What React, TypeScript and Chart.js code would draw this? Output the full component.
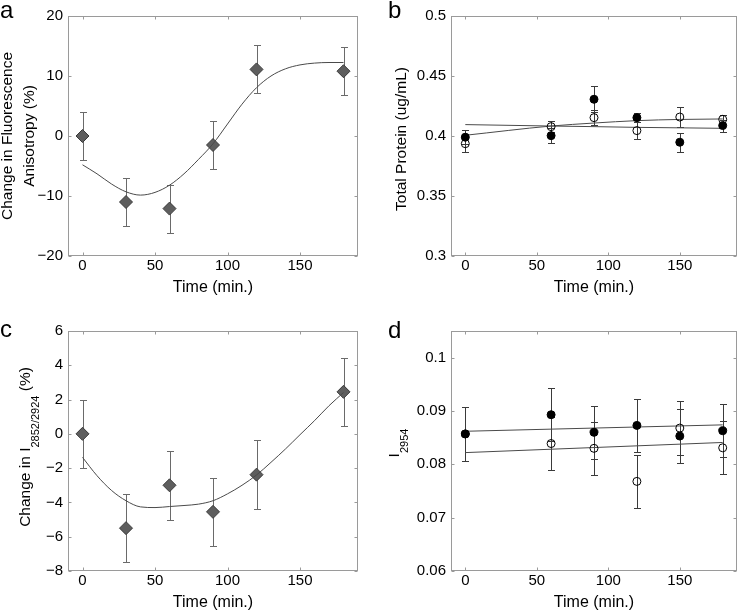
import React, { useEffect, useRef } from 'react';
import { Chart, registerables } from 'chart.js';

Chart.register(...registerables);

const FONT = '"Liberation Sans", Arial, Helvetica, sans-serif';

// ---------- shared x axis ----------
const xTicks = [0, 50, 100, 150];
const xLabels = ['0', '50', '100', '150'];

// ---------- panel a ----------
const timeA = [0, 30, 60, 90, 120, 180];
const anisoMean = [0, -11, -12.1, -1.5, 11.1, 10.8];
const anisoErr = [4, 4, 4, 4, 4, 4];
const fitTimeA = [0, 10, 20, 30, 40, 50, 60, 70, 80, 90, 100, 110, 120, 130, 140, 150, 160, 170, 180];
const anisoFit = [-4.8, -6.3, -8.0, -9.3, -9.85, -9.4, -8.2, -6.3, -3.9, -1.3, 2.0, 5.3, 8.05, 10.0, 11.2, 11.85, 12.15, 12.25, 12.25];
const yTicksA = [-20, -10, 0, 10, 20];
const yLabelsA = ['\u221220', '\u221210', '0', '10', '20'];

// ---------- panel b ----------
const timeB = [0, 60, 90, 120, 150, 180];
const proteinFilled = [0.399, 0.4003, 0.4306, 0.4153, 0.3948, 0.4087];
const proteinFilledErr = [0.006, 0.006, 0.011, 0.004, 0.008, 0.005];
const proteinOpen = [0.3936, 0.4078, 0.4153, 0.4045, 0.4158, 0.4139];
const proteinOpenErr = [0.007, 0.0045, 0.006, 0.007, 0.008, 0.004];
const fitTimeB = [0, 60, 90, 120, 150, 180];
const proteinFitRising = [0.4006, 0.4083, 0.4108, 0.4128, 0.4138, 0.4142];
const proteinFitFlat = [0.4095, 0.4083, 0.4078, 0.4072, 0.4068, 0.4064];
const yTicksB = [0.3, 0.35, 0.4, 0.45, 0.5];
const yLabelsB = ['0.3', '0.35', '0.4', '0.45', '0.5'];

// ---------- panel c ----------
const timeC = [0, 30, 60, 90, 120, 180];
const ratioMean = [0, -5.5, -3.0, -4.55, -2.38, 2.45];
const ratioErr = [2, 2, 2, 2, 2, 2];
const fitTimeC = [0, 10, 20, 30, 40, 50, 60, 70, 80, 90, 100, 110, 120, 130, 140, 150, 160, 170, 180];
const ratioFit = [-1.37, -2.44, -3.3, -3.9, -4.26, -4.3, -4.24, -4.18, -4.1, -3.9, -3.5, -3.0, -2.4, -1.66, -0.88, -0.05, 0.77, 1.64, 2.41];
const yTicksC = [-8, -6, -4, -2, 0, 2, 4, 6];
const yLabelsC = ['\u22128', '\u22126', '\u22124', '\u22122', '0', '2', '4', '6'];

// ---------- panel d ----------
const timeD = [0, 60, 90, 120, 150, 180];
const intFilled = [0.0857, 0.0893, 0.086, 0.0873, 0.0853, 0.0863];
const intFilledErr = [0.005, 0.005, 0.005, 0.005, 0.005, 0.005];
const intOpen = [0.0857, 0.0839, 0.083, 0.0768, 0.0868, 0.0831];
const intOpenErr = [0.005, 0.005, 0.005, 0.005, 0.005, 0.005];
const fitTimeD = [0, 180];
const intFitFilled = [0.0862, 0.0874];
const intFitOpen = [0.0822, 0.0841];
const yTicksD = [0.06, 0.07, 0.08, 0.09, 0.1];
const yLabelsD = ['0.06', '0.07', '0.08', '0.09', '0.1'];

const W = 371;
const H = 305;
const FRAME = '#9a9a9a';

const pts = (xs: number[], ys: number[]) => xs.map((x, i) => ({ x, y: ys[i] }));

type Part = { text: string; sub?: boolean };
type Deco = {
  letter: string;
  letterX: number;
  letterY: number;
  yTitle: Part[][];
  yTitleX: number[];
  yTitleCY: number;
  yTicks: number[];
};

const decoPlugin = {
  id: 'deco',
  beforeDatasetsDraw(chart: any) {
    const ctx = chart.ctx;
    const xs = chart.scales.x;
    const ys = chart.scales.y;
    chart.data.datasets.forEach((ds: any) => {
      if (!ds.errors) return;
      ctx.save();
      ctx.strokeStyle = ds.errorColor || '#333';
      ctx.lineWidth = 1;
      ds.data.forEach((p: any, j: number) => {
        const e = ds.errors[j];
        const x = Math.round(xs.getPixelForValue(p.x)) + 0.5;
        const y1 = Math.round(ys.getPixelForValue(p.y + e)) + 0.5;
        const y2 = Math.round(ys.getPixelForValue(p.y - e)) + 0.5;
        ctx.beginPath();
        ctx.moveTo(x, y1);
        ctx.lineTo(x, y2);
        ctx.moveTo(x - 3.5, y1);
        ctx.lineTo(x + 3.5, y1);
        ctx.moveTo(x - 3.5, y2);
        ctx.lineTo(x + 3.5, y2);
        ctx.stroke();
      });
      ctx.restore();
    });
  },
  afterDraw(chart: any) {
    const deco: Deco = chart.options.plugins.deco;
    const ctx = chart.ctx;
    const a = chart.chartArea;
    const xs = chart.scales.x;
    const ys = chart.scales.y;
    const L = Math.round(a.left) + 0.5;
    const R = Math.round(a.right) - 0.5;
    const T = Math.round(a.top) + 0.5;
    const B = Math.round(a.bottom) - 0.5;
    ctx.save();
    ctx.strokeStyle = FRAME;
    ctx.lineWidth = 1;
    ctx.strokeRect(L, T, R - L, B - T);
    ctx.beginPath();
    xTicks.forEach((v) => {
      const x = Math.round(xs.getPixelForValue(v)) + 0.5;
      ctx.moveTo(x, B);
      ctx.lineTo(x, B - 3);
      ctx.moveTo(x, T);
      ctx.lineTo(x, T + 3);
    });
    deco.yTicks.forEach((v) => {
      const y = Math.round(ys.getPixelForValue(v)) + 0.5;
      ctx.moveTo(L, y);
      ctx.lineTo(L + 3, y);
      ctx.moveTo(R, y);
      ctx.lineTo(R - 3, y);
    });
    ctx.stroke();

    // panel letter
    ctx.fillStyle = '#000';
    ctx.textBaseline = 'alphabetic';
    ctx.textAlign = 'left';
    ctx.font = `24px ${FONT}`;
    ctx.fillText(deco.letter, deco.letterX, deco.letterY);

    // x title
    ctx.font = `16px ${FONT}`;
    ctx.textAlign = 'center';
    ctx.fillText('Time (min.)', (a.left + a.right) / 2, a.bottom + 35.5);

    // y title (rotated, with optional subscripts)
    ctx.textAlign = 'left';
    deco.yTitle.forEach((parts, li) => {
      const fontOf = (p: Part) => (p.sub ? `11px ${FONT}` : `15.5px ${FONT}`);
      let total = 0;
      parts.forEach((p) => {
        ctx.font = fontOf(p);
        total += ctx.measureText(p.text).width;
      });
      ctx.save();
      ctx.translate(deco.yTitleX[li], deco.yTitleCY);
      ctx.rotate(-Math.PI / 2);
      let cx = -total / 2;
      parts.forEach((p) => {
        ctx.font = fontOf(p);
        ctx.fillText(p.text, cx, p.sub ? 9 : 0);
        cx += ctx.measureText(p.text).width;
      });
      ctx.restore();
    });
    ctx.restore();
  },
};

type Panel = {
  left: number;
  top: number;
  area: { left: number; top: number; right: number; bottom: number };
  yMin: number;
  yMax: number;
  yTicks: number[];
  yLabels: string[];
  datasets: any[];
  deco: Deco;
};

const diamond = (xs: number[], ys: number[], err: number[]) => ({
  data: pts(xs, ys),
  errors: err,
  errorColor: '#6a6a6a',
  showLine: false,
  pointStyle: 'rectRot',
  pointRadius: 6.5,
  pointBackgroundColor: '#5e5e5e',
  pointBorderColor: '#3a3a3a',
  pointBorderWidth: 1,
});

const circles = (xs: number[], ys: number[], err: number[], filled: boolean) => ({
  data: pts(xs, ys),
  errors: err,
  errorColor: '#3a3a3a',
  showLine: false,
  pointStyle: 'circle',
  pointRadius: 4,
  pointBackgroundColor: filled ? '#000' : 'rgba(0,0,0,0)',
  pointBorderColor: '#000',
  pointBorderWidth: 1,
});

const fitLine = (xs: number[], ys: number[]) => ({
  data: pts(xs, ys),
  showLine: true,
  pointRadius: 0,
  borderColor: '#4a4a4a',
  borderWidth: 1,
  cubicInterpolationMode: 'monotone',
});

const panels: Panel[] = [
  {
    left: 0,
    top: 0,
    area: { left: 68, top: 16, right: 358, bottom: 256 },
    yMin: -20,
    yMax: 20,
    yTicks: yTicksA,
    yLabels: yLabelsA,
    datasets: [fitLine(fitTimeA, anisoFit), diamond(timeA, anisoMean, anisoErr)],
    deco: {
      letter: 'a',
      letterX: 0,
      letterY: 18,
      yTitle: [[{ text: 'Change in Fluorescence' }], [{ text: 'Anisotropy (%)' }]],
      yTitleX: [12, 34],
      yTitleCY: 136,
      yTicks: yTicksA,
    },
  },
  {
    left: 371,
    top: 0,
    area: { left: 80, top: 16, right: 370, bottom: 256 },
    yMin: 0.3,
    yMax: 0.5,
    yTicks: yTicksB,
    yLabels: yLabelsB,
    datasets: [
      circles(timeB, proteinOpen, proteinOpenErr, false),
      circles(timeB, proteinFilled, proteinFilledErr, true),
      fitLine(fitTimeB, proteinFitRising),
      fitLine(fitTimeB, proteinFitFlat),
    ],
    deco: {
      letter: 'b',
      letterX: 17,
      letterY: 18,
      yTitle: [[{ text: 'Total Protein (ug/mL)' }]],
      yTitleX: [35],
      yTitleCY: 139,
      yTicks: yTicksB,
    },
  },
  {
    left: 0,
    top: 305,
    area: { left: 68, top: 26, right: 358, bottom: 266 },
    yMin: -8,
    yMax: 6,
    yTicks: yTicksC,
    yLabels: yLabelsC,
    datasets: [fitLine(fitTimeC, ratioFit), diamond(timeC, ratioMean, ratioErr)],
    deco: {
      letter: 'c',
      letterX: 0,
      letterY: 32,
      yTitle: [[{ text: 'Change in I' }, { text: '2852/2924', sub: true }, { text: ' (%)' }]],
      yTitleX: [30],
      yTitleCY: 142,
      yTicks: yTicksC,
    },
  },
  {
    left: 371,
    top: 305,
    area: { left: 80, top: 26, right: 370, bottom: 266 },
    yMin: 0.06,
    yMax: 0.105,
    yTicks: yTicksD,
    yLabels: yLabelsD,
    datasets: [
      circles(timeD, intOpen, intOpenErr, false),
      circles(timeD, intFilled, intFilledErr, true),
      fitLine(fitTimeD, intFitFilled),
      fitLine(fitTimeD, intFitOpen),
    ],
    deco: {
      letter: 'd',
      letterX: 17,
      letterY: 33,
      yTitle: [[{ text: 'I' }, { text: '2954', sub: true }]],
      yTitleX: [28],
      yTitleCY: 138,
      yTicks: yTicksD,
    },
  },
];

function PanelChart({ p }: { p: Panel }) {
  const ref = useRef<HTMLCanvasElement | null>(null);
  useEffect(() => {
    if (!ref.current) return;
    const chart = new Chart(ref.current, {
      type: 'scatter',
      data: { datasets: p.datasets },
      plugins: [decoPlugin],
      options: {
        animation: false,
        responsive: false,
        devicePixelRatio: 1,
        layout: { padding: { left: 0, top: p.area.top, right: W - p.area.right, bottom: 0 } },
        plugins: {
          legend: { display: false },
          tooltip: { enabled: false },
          deco: p.deco,
        } as any,
        scales: {
          x: {
            type: 'linear',
            min: -10,
            max: 190,
            grid: { display: false, drawTicks: false },
            border: { display: false },
            afterBuildTicks: (s: any) => {
              s.ticks = xTicks.map((v) => ({ value: v }));
            },
            afterFit: (s: any) => {
              s.height = H - p.area.bottom;
            },
            ticks: {
              color: '#000',
              padding: 1,
              maxRotation: 0,
              font: { family: FONT, size: 15 },
              callback: (v: any) => xLabels[xTicks.indexOf(v)] ?? '',
            },
          },
          y: {
            type: 'linear',
            min: p.yMin,
            max: p.yMax,
            grid: { display: false, drawTicks: false },
            border: { display: false },
            afterBuildTicks: (s: any) => {
              s.ticks = p.yTicks.map((v) => ({ value: v }));
            },
            afterFit: (s: any) => {
              s.width = p.area.left;
            },
            ticks: {
              color: '#000',
              padding: 5,
              font: { family: FONT, size: 15 },
              callback: (v: any) => p.yLabels[p.yTicks.indexOf(v)] ?? '',
            },
          },
        },
      } as any,
    });
    return () => chart.destroy();
  }, [p]);
  return (
    <canvas
      ref={ref}
      width={W}
      height={H}
      style={{ position: 'absolute', left: p.left, top: p.top, width: W, height: H, display: 'block' }}
    />
  );
}

export default function App() {
  return (
    <div style={{ position: 'absolute', left: 0, top: 0, width: 742, height: 610, background: '#fff', overflow: 'hidden' }}>
      {panels.map((p, i) => (
        <PanelChart key={i} p={p} />
      ))}
    </div>
  );
}
